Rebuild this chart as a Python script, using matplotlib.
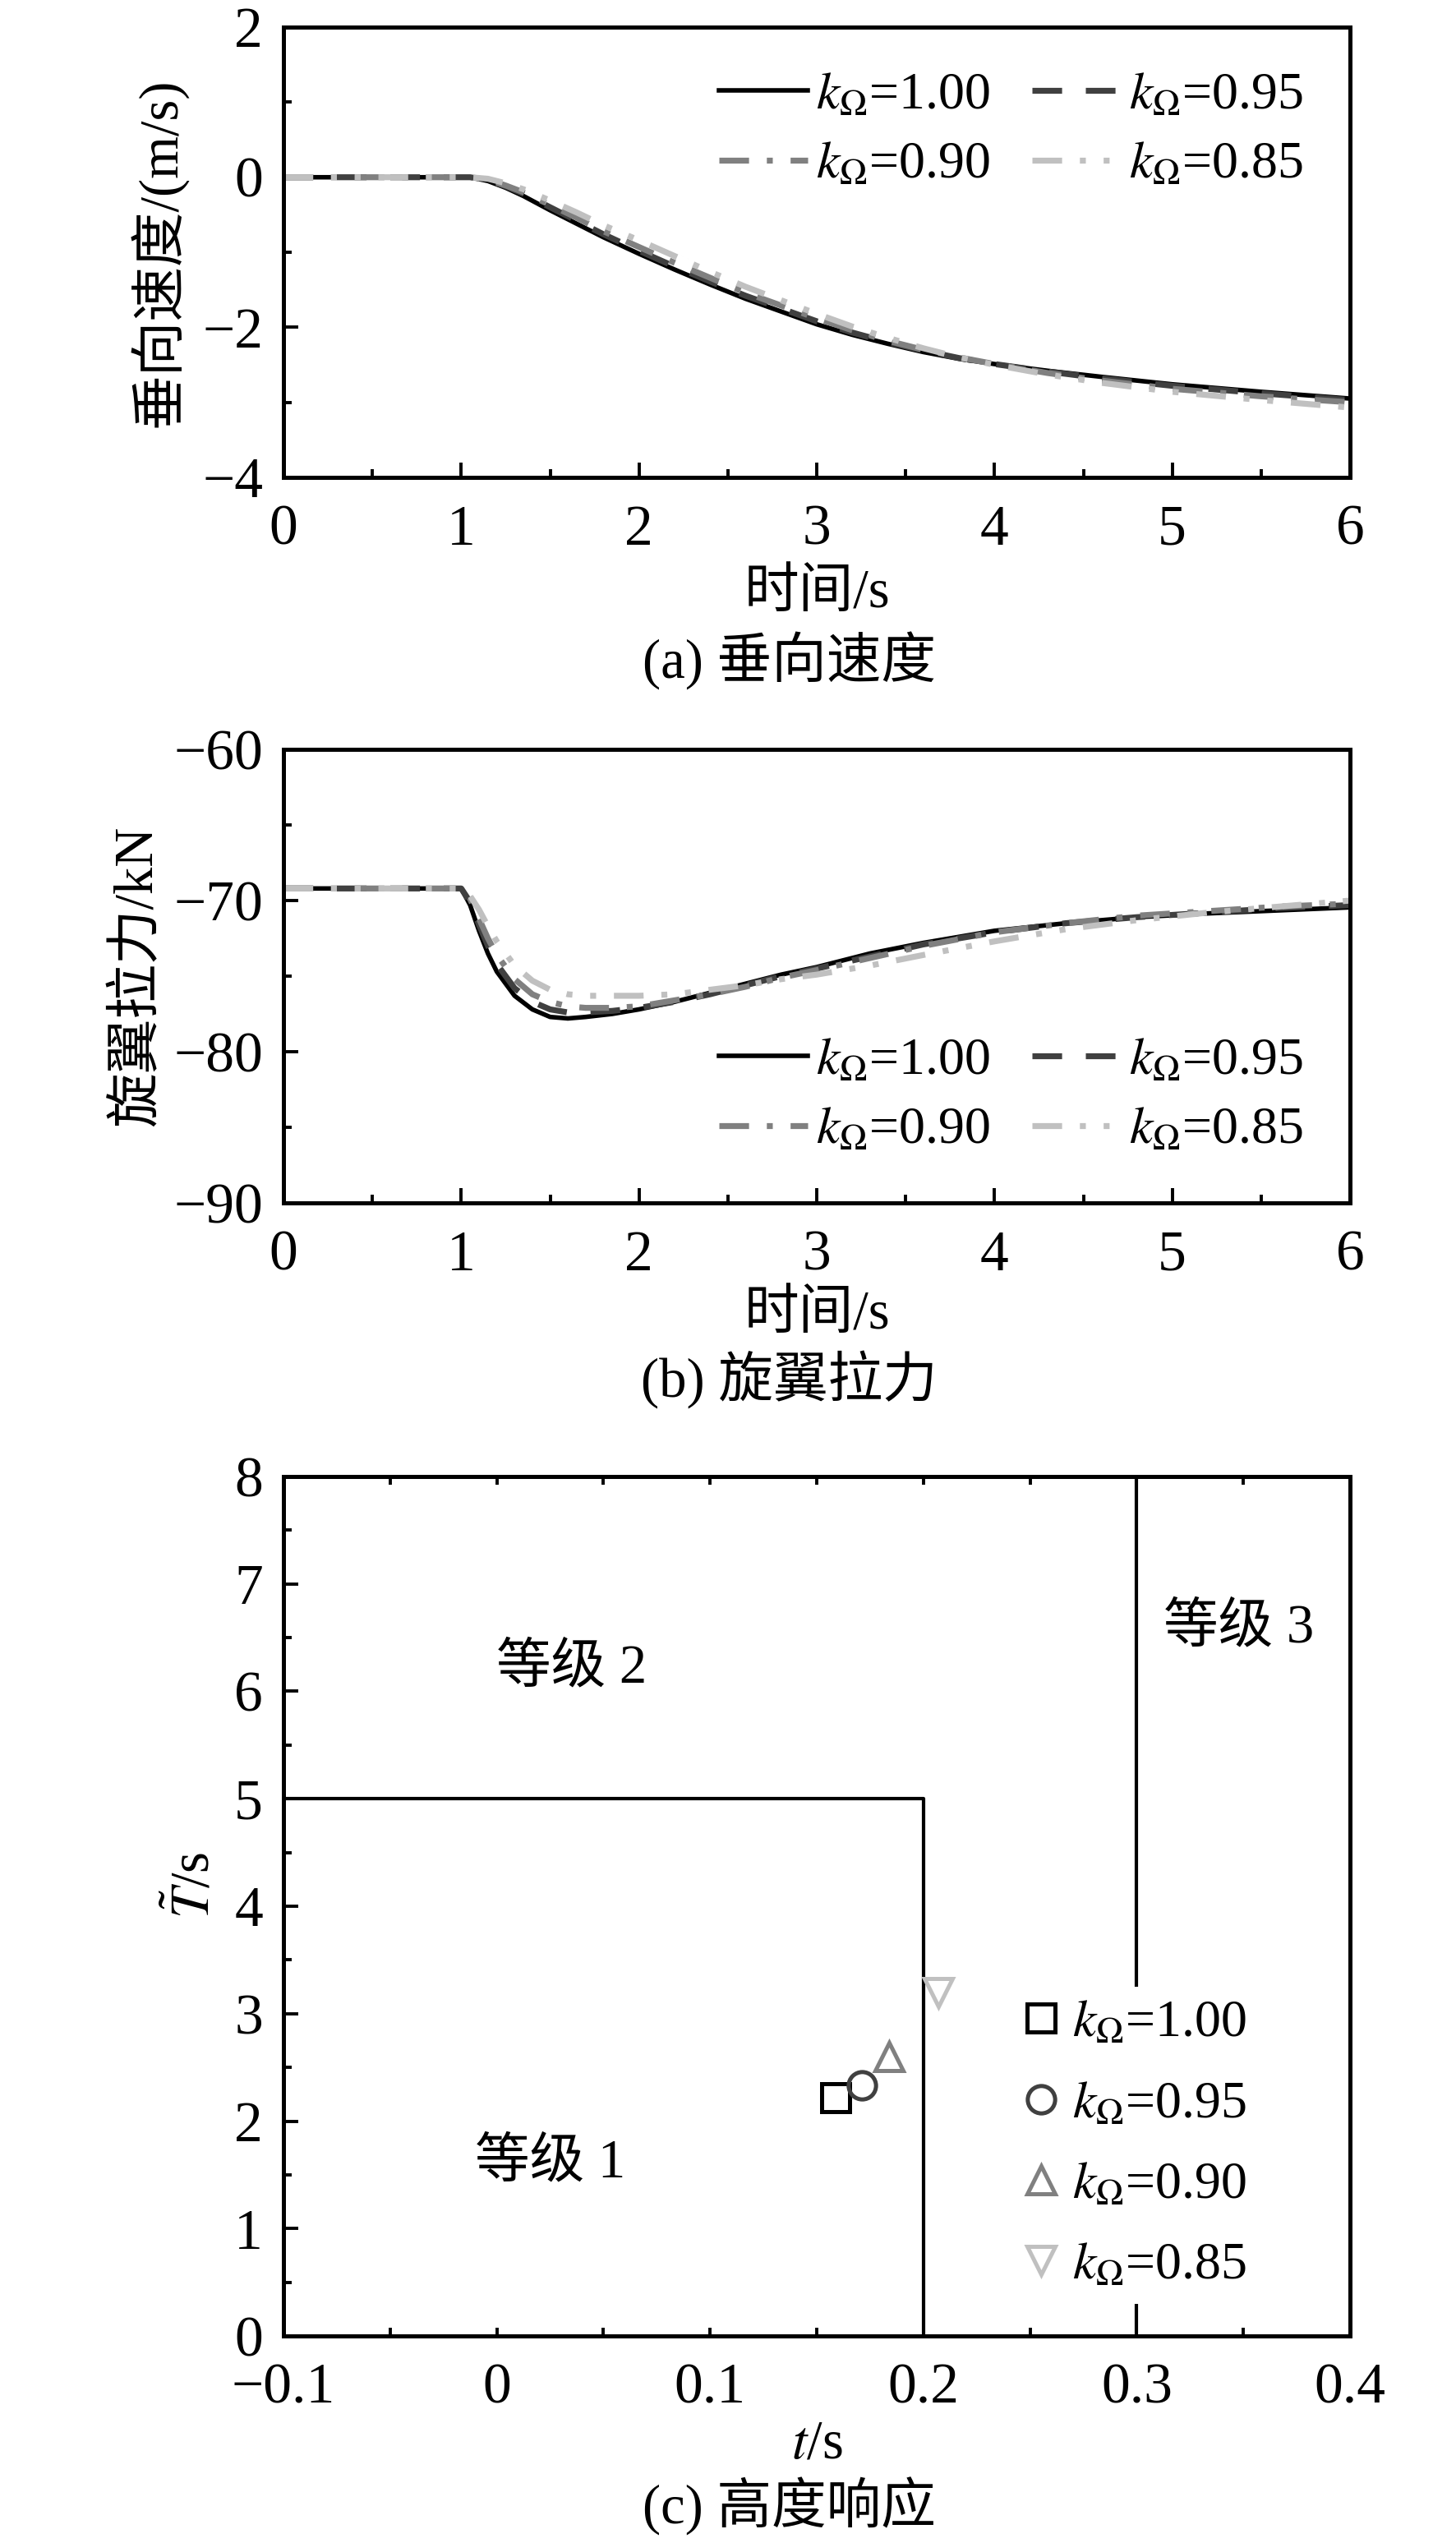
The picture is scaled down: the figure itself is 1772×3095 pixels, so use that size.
import matplotlib
matplotlib.use("Agg")
import matplotlib.pyplot as plt
from matplotlib.ticker import MultipleLocator, FixedLocator, FixedFormatter

plt.rcParams['font.family'] = ['Liberation Serif', 'Noto Sans CJK SC']
plt.rcParams['mathtext.fontset'] = 'stix'
plt.rcParams['axes.unicode_minus'] = True

# ---------------- data ----------------
labels = [r'$k_{\Omega}$=1.00', r'$k_{\Omega}$=0.95', r'$k_{\Omega}$=0.90', r'$k_{\Omega}$=0.85']

# (a) vertical speed
t_a = [0, 1.05, 1.15, 1.25, 1.35, 1.5, 1.65, 1.8, 2.0, 2.2, 2.4, 2.6, 2.8, 3.0,
       3.2, 3.4, 3.6, 3.8, 4.0, 4.3, 4.6, 5.0, 5.5, 6.0]
v_100 = [0, 0, -0.05, -0.14, -0.25, -0.44, -0.62, -0.80, -1.02, -1.23, -1.43, -1.62,
         -1.79, -1.96, -2.10, -2.22, -2.33, -2.42, -2.49, -2.58, -2.66, -2.76, -2.86, -2.95]
v_095 = [0, 0, -0.04, -0.12, -0.22, -0.40, -0.58, -0.76, -0.98, -1.19, -1.39, -1.58,
         -1.75, -1.92, -2.07, -2.20, -2.31, -2.41, -2.49, -2.59, -2.68, -2.78, -2.88, -2.97]
v_090 = [0, 0, -0.03, -0.11, -0.20, -0.37, -0.54, -0.72, -0.93, -1.14, -1.34, -1.54,
         -1.71, -1.88, -2.04, -2.18, -2.30, -2.40, -2.49, -2.61, -2.71, -2.82, -2.92, -3.00]
v_085 = [0, 0, -0.02, -0.08, -0.16, -0.31, -0.47, -0.64, -0.84, -1.05, -1.26, -1.46,
         -1.64, -1.82, -1.99, -2.14, -2.28, -2.40, -2.50, -2.63, -2.74, -2.86, -2.97, -3.07]

# (b) rotor thrust
t_b = [0, 1.0, 1.05, 1.1, 1.15, 1.2, 1.3, 1.4, 1.5, 1.6, 1.7, 1.85, 2.0, 2.2, 2.4,
       2.6, 2.8, 3.0, 3.3, 3.6, 4.0, 4.4, 4.8, 5.2, 5.6, 6.0]
f_100 = [-69.2, -69.2, -70.3, -72.0, -73.5, -74.7, -76.3, -77.2, -77.7, -77.8, -77.7,
         -77.5, -77.2, -76.7, -76.1, -75.5, -74.9, -74.4, -73.5, -72.8, -72.0, -71.5,
         -71.1, -70.85, -70.65, -70.45]
f_095 = [-69.2, -69.2, -70.1, -71.6, -73.0, -74.2, -75.8, -76.7, -77.2, -77.4, -77.4,
         -77.3, -77.1, -76.7, -76.2, -75.6, -75.0, -74.5, -73.7, -72.9, -72.1, -71.5,
         -71.1, -70.8, -70.5, -70.3]
f_090 = [-69.2, -69.2, -69.9, -71.2, -72.5, -73.6, -75.2, -76.2, -76.7, -77.0, -77.1,
         -77.1, -77.0, -76.6, -76.2, -75.7, -75.1, -74.6, -73.8, -73.0, -72.1, -71.5,
         -71.0, -70.7, -70.4, -70.2]
f_085 = [-69.2, -69.2, -69.7, -70.6, -71.7, -72.7, -74.3, -75.3, -75.9, -76.2, -76.3,
         -76.3, -76.3, -76.2, -75.9, -75.6, -75.2, -74.9, -74.3, -73.6, -72.7, -71.9,
         -71.3, -70.8, -70.4, -70.0]

# (c) height response points
t_pts = [0.159, 0.171, 0.184, 0.207]
T_pts = [2.22, 2.33, 2.60, 3.20]
# level boundaries
b1_x = [-0.1, 0.2, 0.2]
b1_y = [5, 5, 0]
b2_x = [0.3, 0.3]
b2_y = [8, 0]
level_text = ['等级 1', '等级 2', '等级 3']
level_x = [0.025, 0.035, 0.348]
level_y = [1.61, 6.21, 6.59]
c_xticks = [-0.1, 0.0, 0.1, 0.2, 0.3, 0.4]
c_xticklabels = ['\u22120.1', '0', '0.1', '0.2', '0.3', '0.4']

# ---------------- styles ----------------
colors = ['#000000', '#404040', '#808080', '#c0c0c0']
styles = ['-', (0, (5, 4)), (0, (5, 3, 1, 3)), (0, (5, 3, 1, 3, 1, 3))]
lws = [2.0, 2.6, 2.6, 2.6]
markers = ['s', 'o', '^', 'v']

FS = 25
LFS = 23
fig = plt.figure(figsize=(8.86, 15.475), dpi=200)

ax_a = fig.add_axes([0.1947, 0.8123, 0.7325, 0.1770])
ax_b = fig.add_axes([0.1947, 0.5270, 0.7325, 0.1783])
ax_c = fig.add_axes([0.1947, 0.0814, 0.7325, 0.3380])


def style_axes(ax):
    for s in ax.spines.values():
        s.set_linewidth(1.8)
    ax.tick_params(which='both', direction='in', labelsize=FS, width=1.4,
                   top=False, right=False)
    ax.tick_params(which='major', length=6.5)
    ax.tick_params(which='minor', length=3.5)
    ax.tick_params(axis='x', pad=12)
    ax.tick_params(axis='y', pad=9)


# ---- (a) ----
for v, c, ls, lw, lab in zip([v_100, v_095, v_090, v_085], colors, styles, lws, labels):
    ax_a.plot(t_a, v, color=c, linestyle=ls, lw=lw, label=lab)
ax_a.set_xlim(0, 6)
ax_a.set_ylim(-4, 2)
ax_a.xaxis.set_major_locator(MultipleLocator(1))
ax_a.xaxis.set_minor_locator(MultipleLocator(0.5))
ax_a.yaxis.set_major_locator(MultipleLocator(2))
ax_a.yaxis.set_minor_locator(MultipleLocator(1))
style_axes(ax_a)
ax_a.set_xlabel('时间/s', fontsize=24, va='center')
ax_a.xaxis.set_label_coords(0.5, -0.258)
ax_a.set_ylabel('垂向速度/(m/s)', fontsize=24, va='center')
ax_a.yaxis.set_label_coords(-0.117, 0.5)
h, l = ax_a.get_legend_handles_labels()
order = [0, 2, 1, 3]
ax_a.legend([h[i] for i in order], [l[i] for i in order], ncol=2, frameon=False,
            loc='upper right', bbox_to_anchor=(0.956, 0.9), borderaxespad=0,
            borderpad=0, fontsize=LFS, handlelength=1.7, handletextpad=0.15,
            columnspacing=0.8, labelspacing=0.4)
fig.text(0.542, 0.7402, '(a) 垂向速度', fontsize=24, ha='center', va='center')

# ---- (b) ----
for f, c, ls, lw, lab in zip([f_100, f_095, f_090, f_085], colors, styles, lws, labels):
    ax_b.plot(t_b, f, color=c, linestyle=ls, lw=lw, label=lab)
ax_b.set_xlim(0, 6)
ax_b.set_ylim(-90, -60)
ax_b.xaxis.set_major_locator(MultipleLocator(1))
ax_b.xaxis.set_minor_locator(MultipleLocator(0.5))
ax_b.yaxis.set_major_locator(MultipleLocator(10))
ax_b.yaxis.set_minor_locator(MultipleLocator(5))
style_axes(ax_b)
ax_b.set_xlabel('时间/s', fontsize=24, va='center')
ax_b.xaxis.set_label_coords(0.5, -0.248)
ax_b.set_ylabel('旋翼拉力/kN', fontsize=24, va='center')
ax_b.yaxis.set_label_coords(-0.137, 0.5)
h, l = ax_b.get_legend_handles_labels()
ax_b.legend([h[i] for i in order], [l[i] for i in order], ncol=2, frameon=False,
            loc='lower right', bbox_to_anchor=(0.956, 0.105), borderaxespad=0,
            borderpad=0, fontsize=LFS, handlelength=1.7, handletextpad=0.15,
            columnspacing=0.8, labelspacing=0.4)
fig.text(0.542, 0.4572, '(b) 旋翼拉力', fontsize=24, ha='center', va='center')

# ---- (c) ----
ax_c.plot(b1_x, b1_y, color='black', lw=1.5)
ax_c.plot(b2_x, b2_y, color='black', lw=1.5)
for x, y, c, m, lab in zip(t_pts, T_pts, colors, markers, labels):
    ax_c.plot([x], [y], linestyle='none', marker=m, markersize=12,
              markerfacecolor='none', markeredgecolor=c, markeredgewidth=1.8,
              label=lab)
for s, x, y in zip(level_text, level_x, level_y):
    ax_c.text(x, y, s, fontsize=24, ha='center', va='center')
ax_c.set_xlim(-0.1, 0.4)
ax_c.set_ylim(0, 8)
ax_c.xaxis.set_major_locator(FixedLocator(c_xticks))
ax_c.xaxis.set_major_formatter(FixedFormatter(c_xticklabels))
ax_c.xaxis.set_minor_locator(MultipleLocator(0.05))
ax_c.yaxis.set_major_locator(MultipleLocator(1))
ax_c.yaxis.set_minor_locator(MultipleLocator(0.5))
style_axes(ax_c)
ax_c.tick_params(axis='x', which='both', top=True, length=3.5)
ax_c.tick_params(axis='x', pad=12)
ax_c.set_xlabel(r'$t$/s', fontsize=24, va='center')
ax_c.xaxis.set_label_coords(0.5, -0.126)
ax_c.set_ylabel(r'$\tilde{T}$/s', fontsize=24, va='center')
ax_c.yaxis.set_label_coords(-0.084, 0.524)
leg = ax_c.legend(loc='upper left', bbox_to_anchor=(0.239, 3.25),
                  bbox_transform=ax_c.transData, frameon=True, fancybox=False,
                  edgecolor='none', facecolor='white', framealpha=1,
                  borderaxespad=0, borderpad=0.25, fontsize=LFS, handlelength=0.8,
                  handletextpad=0.2, labelspacing=0.62)
fig.text(0.542, 0.01454, '(c) 高度响应', fontsize=24, ha='center', va='center')

fig.savefig('out.png', dpi=200)
